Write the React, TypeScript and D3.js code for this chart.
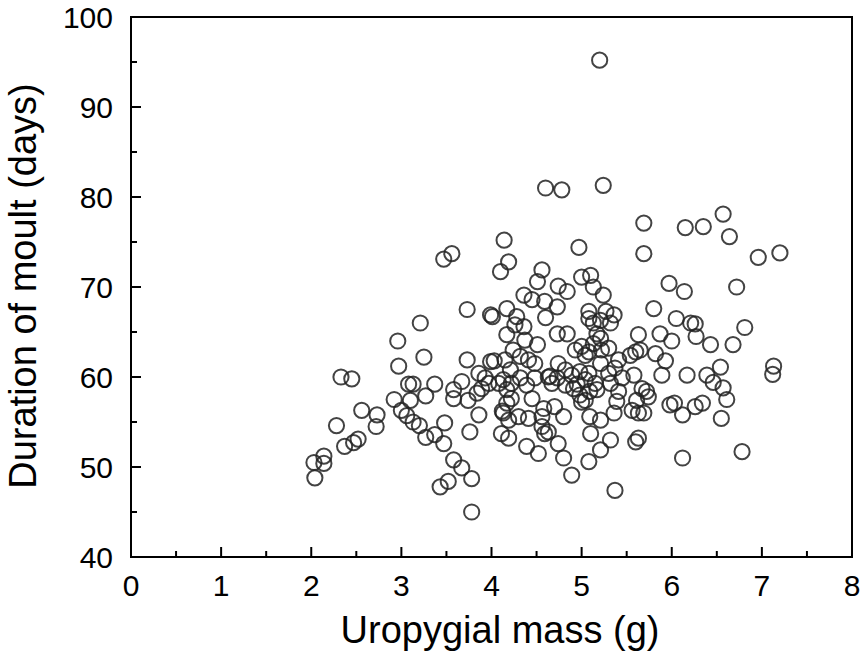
import React from "react";
import * as d3 from "d3";

// Uropygial mass (g)
const mass: number[] = [
  2.03, 2.14, 2.14, 2.04, 2.28, 2.37, 2.47, 2.52, 2.56, 2.73, 2.72, 2.33, 2.45, 2.92, 3.10, 3.00, 3.06, 3.13, 3.20, 3.27,
  3.08, 3.13, 2.96, 2.97, 3.21, 3.25, 3.27,
  3.37, 3.47, 3.56, 3.73, 3.99, 4.01, 3.73, 3.99, 4.03, 3.86, 3.93, 3.67, 3.58, 3.58, 3.74, 3.84, 3.89, 3.97, 3.86,
  3.37, 3.48, 3.47, 3.76, 3.58, 3.67, 3.78, 3.52, 3.43, 3.78,
  4.14, 4.19, 4.10, 4.56, 4.51, 4.59, 4.36, 4.45, 4.17, 4.28, 4.60,
  4.60, 4.78, 5.24, 5.20, 4.97, 5.69, 5.69, 5.00, 5.10, 5.13, 4.74, 4.84, 5.24, 4.73, 5.08, 5.27, 5.36, 5.08, 5.21, 5.80,
  6.15, 6.35, 6.57, 6.64, 6.96, 7.20, 5.97, 6.14, 6.72, 6.05, 6.21, 6.26, 6.81, 6.00, 6.27, 6.43, 6.68, 5.93, 6.54,
  6.17, 6.39, 6.46, 6.57, 6.61, 6.55, 6.03, 6.12, 6.26, 6.34, 6.12, 6.78, 7.13, 7.12,
  5.87, 5.82, 5.89, 5.98, 5.74, 5.67,
  4.17, 4.26, 4.36, 4.73, 4.84, 4.51, 4.37, 4.24, 4.32, 4.41, 4.48, 4.15, 4.13, 4.22, 4.17, 4.63, 4.65, 4.73, 4.48, 4.74,
  4.93, 5.00, 5.08, 5.13, 5.21, 5.17, 5.22, 5.30, 5.13, 5.32, 5.63, 5.54, 5.60, 5.65, 5.41, 5.37, 5.58, 4.89, 4.98, 5.04,
  4.82, 4.91, 4.98, 5.04, 5.09, 5.17, 5.32, 5.41, 5.39, 5.61, 5.56, 5.63, 5.72, 4.45, 4.58, 4.56, 4.70, 4.80, 5.09, 5.21,
  4.22, 4.17, 4.30, 4.41,
  4.32, 4.39, 4.21, 4.12, 4.13, 4.19, 4.11, 4.19, 4.39, 4.52, 4.59, 4.56,
  5.10, 5.32, 5.21, 5.08, 5.63, 5.60, 5.37, 4.80, 4.89, 4.74, 4.63, 5.36, 5.69,
  5.04, 5.21, 4.82, 5.08, 5.30, 5.45, 4.95, 5.15, 4.67, 5.00, 4.08,
];

// Duration of moult (days)
const duration: number[] = [
  50.5, 51.2, 50.4, 48.8, 54.6, 52.3, 52.7, 53.1, 56.3, 55.8, 54.5, 60.0, 59.8, 57.5, 57.4, 56.3, 55.7, 55.0, 54.6, 53.3,
  59.2, 59.2, 64.0, 61.2, 66.0, 62.2, 57.9,
  59.2, 73.1, 73.7, 67.5, 66.9, 66.7, 61.9, 61.7, 61.8, 60.4, 59.9, 59.5, 58.6, 57.6, 57.4, 58.2, 58.7, 59.3, 55.8,
  53.6, 54.9, 52.6, 53.9, 50.8, 49.9, 48.7, 48.4, 47.8, 45.0,
  75.2, 72.8, 71.7, 71.9, 70.6, 68.4, 69.1, 68.6, 67.6, 66.7, 66.6,
  81.0, 80.8, 81.3, 95.2, 74.4, 73.7, 77.1, 71.1, 71.3, 70.0, 70.1, 69.5, 69.1, 67.8, 67.3, 67.3, 66.9, 66.5, 66.3, 67.6,
  76.6, 76.7, 78.1, 75.6, 73.3, 73.8, 70.4, 69.5, 70.0, 66.5, 66.0, 65.9, 65.5, 64.0, 64.5, 63.6, 63.6, 61.8, 61.1,
  60.2, 60.2, 59.4, 58.8, 57.5, 55.4, 57.1, 55.8, 56.7, 57.1, 51.0, 51.7, 61.2, 60.3,
  64.8, 62.6, 60.2, 56.9, 57.8, 58.7,
  64.7, 65.8, 65.6, 64.8, 64.8, 63.6, 64.1, 63.0, 62.3, 61.9, 61.5, 61.9, 59.7, 59.3, 58.6, 60.0, 60.1, 59.9, 59.9, 61.5,
  63.0, 63.4, 62.8, 63.7, 64.3, 64.8, 63.0, 63.2, 66.0, 66.0, 64.7, 62.4, 62.8, 63.0, 61.9, 61.0, 60.2, 60.2, 60.6, 59.7,
  59.1, 58.7, 58.0, 57.4, 58.4, 58.6, 59.3, 58.4, 57.3, 57.4, 56.3, 56.0, 58.4, 57.6, 56.5, 55.6, 56.7, 55.6, 55.6, 55.2,
  57.6, 57.1, 55.6, 55.4,
  59.9, 59.1, 60.8, 56.2, 56.0, 55.2, 53.7, 53.2, 52.3, 51.5, 53.7, 54.5,
  53.7, 53.0, 51.9, 50.6, 53.2, 52.8, 47.4, 51.0, 49.1, 52.6, 53.9, 56.0, 56.0,
  62.4, 61.5, 60.8, 60.4, 60.4, 59.9, 59.2, 59.3, 59.3, 57.2, 59.3,
];

const xTicks = [0, 1, 2, 3, 4, 5, 6, 7, 8];
const xMinorTicks = [0.5, 1.5, 2.5, 3.5, 4.5, 5.5, 6.5, 7.5];
const yTicks = [40, 50, 60, 70, 80, 90, 100];
const yMinorTicks = [45, 55, 65, 75, 85, 95];
const xLabel = "Uropygial mass (g)";
const yLabel = "Duration of moult (days)";

const W = 861;
const H = 657;
const M = { left: 131, right: 852, top: 17, bottom: 557 };
const FONT = "'Liberation Sans', Arial, Helvetica, sans-serif";

export default function App() {
  const x = d3.scaleLinear().domain([0, 8]).range([M.left, M.right]);
  const y = d3.scaleLinear().domain([40, 100]).range([M.bottom, M.top]);
  const points = mass.map((m, i) => ({ m, d: duration[i] }));
  const majorLen = 10;
  const minorLen = 6;
  return (
    <svg width={W} height={H} style={{ position: "absolute", left: 0, top: 0, background: "#fff" }}>
      <rect x={0} y={0} width={W} height={H} fill="#fff" />
      <g>
        {points.map((p, i) => (
          <circle key={i} cx={x(p.m)} cy={y(p.d)} r={7.6} fill="none" stroke="#222" strokeOpacity={0.85} strokeWidth={2} />
        ))}
      </g>
      <rect x={M.left} y={M.top} width={M.right - M.left} height={M.bottom - M.top} fill="none" stroke="#000" strokeWidth={2} />
      {xTicks.map((t) => (
        <g key={"xt" + t}>
          <line x1={x(t)} x2={x(t)} y1={M.bottom} y2={M.bottom - majorLen} stroke="#000" strokeWidth={2} />
          <text x={x(t)} y={596} textAnchor="middle" fontFamily={FONT} fontSize={30} fill="#000">{t}</text>
        </g>
      ))}
      {xMinorTicks.map((t) => (
        <line key={"xm" + t} x1={x(t)} x2={x(t)} y1={M.bottom} y2={M.bottom - minorLen} stroke="#000" strokeWidth={2} />
      ))}
      {yTicks.map((t) => (
        <g key={"yt" + t}>
          <line x1={M.left} x2={M.left + majorLen} y1={y(t)} y2={y(t)} stroke="#000" strokeWidth={2} />
          <text x={113} y={y(t)} dy="0.36em" textAnchor="end" fontFamily={FONT} fontSize={30} fill="#000">{t}</text>
        </g>
      ))}
      {yMinorTicks.map((t) => (
        <line key={"ym" + t} x1={M.left} x2={M.left + minorLen} y1={y(t)} y2={y(t)} stroke="#000" strokeWidth={2} />
      ))}
      <text x={500} y={643} textAnchor="middle" fontFamily={FONT} fontSize={38} fill="#000">{xLabel}</text>
      <text transform={`translate(36,286) rotate(-90)`} textAnchor="middle" fontFamily={FONT} fontSize={38} fill="#000">{yLabel}</text>
    </svg>
  );
}
